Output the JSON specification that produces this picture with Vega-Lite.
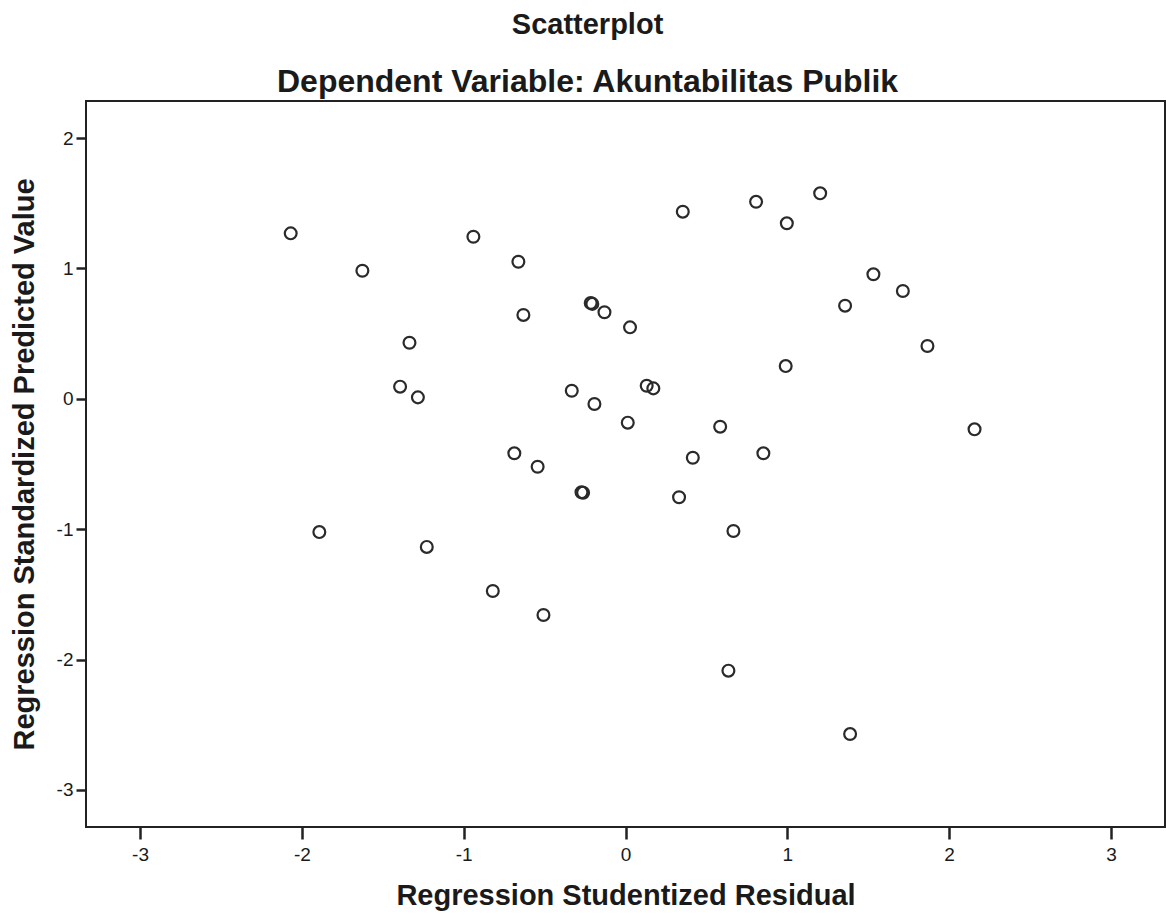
{
  "$schema": "https://vega.github.io/schema/vega-lite/v6.json",
  "width": 1079,
  "height": 726,
  "autosize": {"type": "none"},
  "padding": {"left": 86, "top": 101, "right": 1, "bottom": 94},
  "background": "white",
  "title": {
    "text": "Scatterplot",
    "subtitle": "Dependent Variable: Akuntabilitas Publik",
    "anchor": "middle",
    "frame": "bounds",
    "font": "Liberation Sans",
    "fontSize": 29,
    "fontWeight": "bold",
    "color": "#1a1a1a",
    "subtitleFont": "Liberation Sans",
    "subtitleFontSize": 32,
    "subtitleFontWeight": "bold",
    "subtitleColor": "#1a1a1a",
    "subtitlePadding": 27,
    "offset": 3
  },
  "config": {
    "view": {"stroke": "#222", "strokeWidth": 2},
    "axis": {
      "domain": false,
      "grid": false,
      "tickColor": "#222",
      "tickWidth": 2.5,
      "labelFont": "Liberation Sans",
      "labelFontSize": 19,
      "labelColor": "#1a1a1a",
      "titleFont": "Liberation Sans",
      "titleFontSize": 29,
      "titleFontWeight": "bold",
      "titleColor": "#1a1a1a"
    }
  },
  "data": {
    "values": [
      {"resid": -2.069, "pred": 1.269},
      {"resid": -1.626, "pred": 0.982},
      {"resid": -1.335, "pred": 0.430},
      {"resid": -1.393, "pred": 0.093},
      {"resid": -1.283, "pred": 0.011},
      {"resid": -1.892, "pred": -1.022},
      {"resid": -1.228, "pred": -1.136},
      {"resid": -0.940, "pred": 1.243},
      {"resid": -0.662, "pred": 1.051},
      {"resid": -0.631, "pred": 0.643},
      {"resid": -0.215, "pred": 0.735},
      {"resid": -0.205, "pred": 0.728},
      {"resid": -0.130, "pred": 0.664},
      {"resid": 0.028, "pred": 0.548},
      {"resid": 0.354, "pred": 1.435},
      {"resid": 0.807, "pred": 1.511},
      {"resid": 0.997, "pred": 1.346},
      {"resid": 1.203, "pred": 1.576},
      {"resid": 1.532, "pred": 0.955},
      {"resid": 1.714, "pred": 0.827},
      {"resid": 1.357, "pred": 0.714},
      {"resid": 1.866, "pred": 0.405},
      {"resid": 0.990, "pred": 0.251},
      {"resid": -0.332, "pred": 0.062},
      {"resid": -0.192, "pred": -0.040},
      {"resid": 0.131, "pred": 0.100},
      {"resid": 0.172, "pred": 0.080},
      {"resid": 0.014, "pred": -0.183},
      {"resid": 0.585, "pred": -0.214},
      {"resid": 0.416, "pred": -0.452},
      {"resid": 0.852, "pred": -0.418},
      {"resid": 2.157, "pred": -0.234},
      {"resid": -0.687, "pred": -0.418},
      {"resid": -0.543, "pred": -0.521},
      {"resid": -0.272, "pred": -0.717},
      {"resid": -0.262, "pred": -0.720},
      {"resid": 0.331, "pred": -0.755},
      {"resid": 0.667, "pred": -1.014},
      {"resid": -0.820, "pred": -1.474},
      {"resid": -0.507, "pred": -1.658},
      {"resid": 0.636, "pred": -2.085},
      {"resid": 1.388, "pred": -2.571}
    ]
  },
  "mark": {"type": "point", "shape": "circle", "filled": false, "size": 140, "stroke": "#2a2a2a", "strokeWidth": 2.2, "opacity": 1},
  "encoding": {
    "x": {
      "field": "resid",
      "type": "quantitative",
      "scale": {"domain": [-3.334, 3.334], "nice": false, "zero": false},
      "axis": {
        "title": "Regression Studentized Residual",
        "values": [-3, -2, -1, 0, 1, 2, 3],
        "labelExpr": "'' + datum.value",
        "tickSize": 12,
        "labelPadding": 6,
        "titlePadding": 17
      }
    },
    "y": {
      "field": "pred",
      "type": "quantitative",
      "scale": {"domain": [-3.284, 2.284], "nice": false, "zero": false},
      "axis": {
        "title": "Regression Standardized Predicted Value",
        "values": [-3, -2, -1, 0, 1, 2],
        "labelExpr": "'' + datum.value",
        "tickSize": 10,
        "labelPadding": 3,
        "titlePadding": 17
      }
    }
  }
}
